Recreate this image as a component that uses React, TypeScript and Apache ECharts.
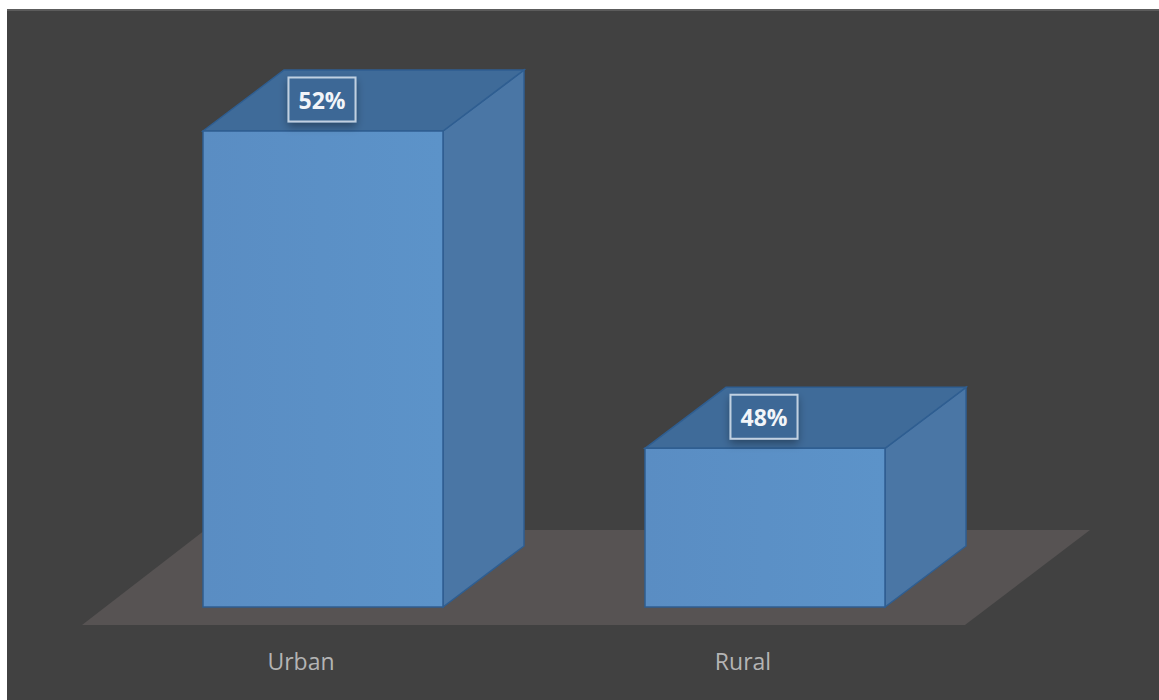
import React, { useEffect, useRef } from "react";
import * as echarts from "echarts";

const categories = ["Urban", "Rural"];
const shares = [52, 48];
const Y_MIN = 46;
const Y_MAX = 52;

export default function App() {
  const ref = useRef<HTMLDivElement>(null);
  useEffect(() => {
    if (!ref.current) return;
    const chart = echarts.init(ref.current, null, { renderer: "svg" });
    const edge = "#2f5e91";
    const option: any = {
      animation: false,
      backgroundColor: "#ffffff",
      graphic: [
        { type: "rect", z: -10, shape: { x: 7, y: 9, width: 1152, height: 691 }, style: { fill: "#414141" } },
        { type: "rect", z: -9, shape: { x: 7, y: 9, width: 1152, height: 2 }, style: { fill: "#5c5c5c" } },
        {
          type: "polygon",
          z: -8,
          shape: { points: [[82, 625], [965, 625], [1090, 530], [205, 530]] },
          style: { fill: "#575353" },
        },
      ],
      grid: { left: 102, right: 173, top: 131, bottom: 93 },
      xAxis: {
        type: "category",
        data: categories,
        axisLine: { show: false },
        axisTick: { show: false },
        axisLabel: {
          color: "#b4b4b4",
          fontFamily: "Open Sans",
          fontSize: 23,
          margin: 42,
          padding: [0, 44, 0, 0],
        },
      },
      yAxis: { type: "value", min: Y_MIN, max: Y_MAX, show: false, splitLine: { show: false } },
      series: [
        {
          type: "custom",
          data: categories.map((c, i) => [i, shares[i]]),
          renderItem: (params: any, api: any) => {
            const cat = api.value(0);
            const val = api.value(1);
            const top = api.coord([cat, val]);
            const base = api.coord([cat, Y_MIN]);
            const band = api.size([1, 0])[0];
            const w = band * 0.543;
            const x0 = top[0] - w / 2;
            const x1 = top[0] + w / 2;
            const yT = top[1];
            const yB = base[1];
            const dx = 81;
            const dy = 61;
            return {
              type: "group",
              children: [
                {
                  type: "polygon",
                  shape: { points: [[x1, yT], [x1 + dx, yT - dy], [x1 + dx, yB - dy], [x1, yB]] },
                  style: { fill: "#4a76a5", stroke: edge, lineWidth: 1.5 },
                },
                {
                  type: "polygon",
                  shape: { points: [[x0, yT], [x0 + dx, yT - dy], [x1 + dx, yT - dy], [x1, yT]] },
                  style: { fill: "#3f6b99", stroke: edge, lineWidth: 1.5 },
                },
                {
                  type: "polygon",
                  shape: { points: [[x0, yT], [x1, yT], [x1, yB], [x0, yB]] },
                  style: {
                    fill: new echarts.graphic.LinearGradient(0, 0, 1, 0, [
                      { offset: 0, color: "#5a8dc3" },
                      { offset: 1, color: "#5c93c9" },
                    ]),
                    stroke: edge,
                    lineWidth: 1.5,
                  },
                },
                {
                  type: "text",
                  x: top[0] - 1,
                  y: yT - dy / 2 - 1,
                  style: {
                    text: val + "%",
                    fill: "#f2f5f9",
                    font: "bold 23px 'Open Sans'",
                    align: "center",
                    verticalAlign: "middle",
                    backgroundColor: "#3c6896",
                    borderColor: "rgba(214,226,238,0.85)",
                    borderWidth: 2,
                    padding: [6, 9, 6, 9],
                    lineHeight: 30,
                    shadowColor: "rgba(0,0,0,0.35)",
                    shadowBlur: 8,
                    shadowOffsetY: 4,
                  },
                },
              ],
            };
          },
        },
      ],
    };
    chart.setOption(option);
    return () => chart.dispose();
  }, []);
  return (
    <div
      ref={ref}
      style={{ position: "fixed", left: 0, top: 0, width: 1159, height: 700 }}
    />
  );
}
